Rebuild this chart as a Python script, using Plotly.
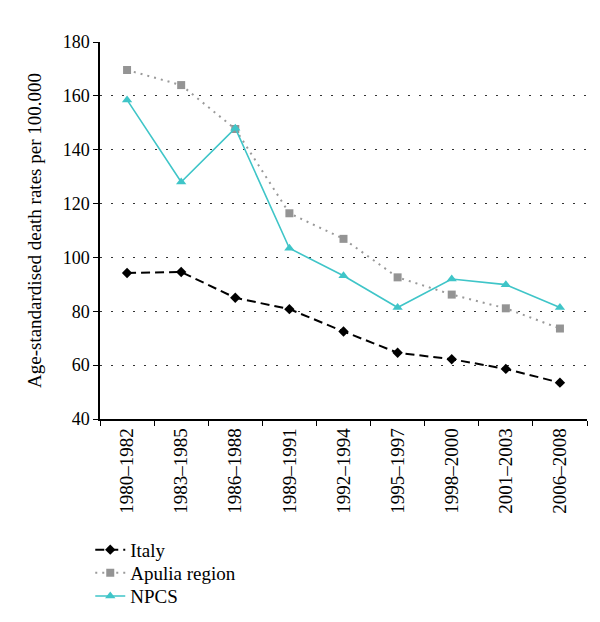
import plotly.graph_objects as go

periods = ["1980–1982", "1983–1985", "1986–1988", "1989–1991", "1992–1994",
           "1995–1997", "1998–2000", "2001–2003", "2006–2008"]
italy = [94.2, 94.6, 85.0, 80.8, 72.5, 64.6, 62.2, 58.6, 53.5]
apulia = [169.6, 164.0, 147.7, 116.4, 106.9, 92.6, 86.2, 81.1, 73.6]
npcs = [158.5, 128.0, 148.0, 103.4, 93.2, 81.4, 92.0, 89.9, 81.4]

FONT = "Liberation Serif"

fig = go.Figure()
fig.add_trace(go.Scatter(
    x=periods, y=italy, name="Italy", mode="lines+markers", legend="legend",
    line=dict(color="black", width=2, dash="9px,5px"),
    marker=dict(symbol="diamond", size=8, color="black"),
))
fig.add_trace(go.Scatter(
    x=periods, y=apulia, name="Apulia region", mode="lines+markers", legend="legend2",
    line=dict(color="#9a9a9a", width=2, dash="2px,5px"),
    marker=dict(symbol="square", size=8, color="#949494"),
))
fig.add_trace(go.Scatter(
    x=periods, y=npcs, name="NPCS", mode="lines+markers", legend="legend3",
    line=dict(color="#3fc5c8", width=1.6),
    marker=dict(symbol="triangle-up", size=9, color="#3fc5c8"),
))

def leg(y):
    return dict(x=-0.02, y=y, xanchor="left", yanchor="middle",
                orientation="v", font=dict(family=FONT, size=19, color="black"),
                bgcolor="rgba(0,0,0,0)")

fig.update_layout(
    width=600, height=622,
    margin=dict(l=92, r=21, t=34, b=211),
    paper_bgcolor="white", plot_bgcolor="white",
    font=dict(family=FONT, size=18, color="black"),
    showlegend=True,
    legend=leg(-0.347),
    legend2=leg(-0.4085),
    legend3=leg(-0.470),
    xaxis=dict(
        type="category", range=[-0.5, 8.5],
        showline=True, linecolor="black", linewidth=1.5,
        ticks="outside", tickson="boundaries", ticklen=5, tickcolor="black",
        tickangle=-90, showgrid=False, zeroline=False,
        tickfont=dict(family=FONT, size=19, color="black"),
    ),
    yaxis=dict(
        range=[40, 180], dtick=20, tick0=40,
        showline=True, linecolor="black", linewidth=1.5,
        ticks="outside", ticklen=5, tickcolor="black",
        showgrid=True, gridcolor="#333333", gridwidth=1, griddash="1.5px,9.5px",
        zeroline=False,
        tickfont=dict(family=FONT, size=18, color="black"),
        title=dict(text="Age-standardised death rates per 100.000",
                   font=dict(family=FONT, size=19, color="black"), standoff=16),
    ),
)

fig.write_html("out.html")
